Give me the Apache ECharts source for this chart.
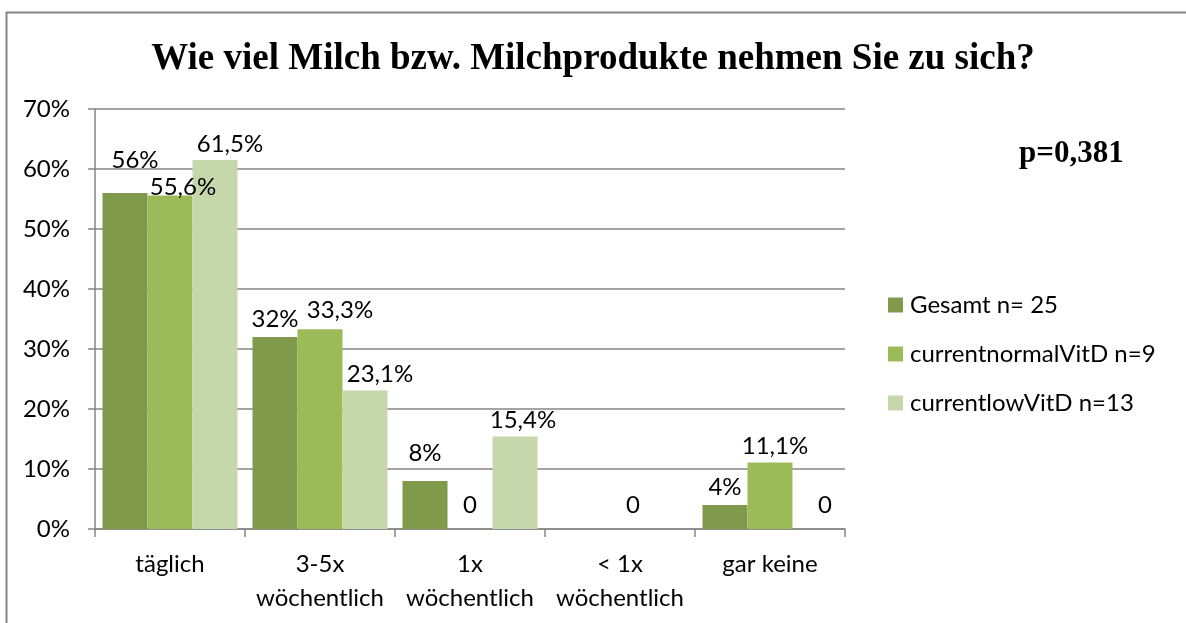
<!DOCTYPE html>
<html>
<head>
<meta charset="utf-8">
<script src="https://cdn.jsdelivr.net/npm/echarts@6/dist/echarts.min.js"></script>
<style>
  html, body { margin: 0; padding: 0; background: #fff; }
  #chart { width: 1186px; height: 623px; }
</style>
</head>
<body>
<div id="chart"></div>
<script>
// Kategorien (x-Achse)
var categories = ['täglich', '3-5x\nwöchentlich', '1x\nwöchentlich', '< 1x\nwöchentlich', 'gar keine']
// Werte in %, null = leere Zelle (kein Label)
var gesamt = [56, 32, 8, null, 4]
var normalVitD = [55.6, 33.3, 0, 0, 11.1]
var lowVitD = [61.5, 23.1, 15.4, null, 0]
var seriesNames = ['Gesamt n= 25', 'currentnormalVitD n=9', 'currentlowVitD n=13']
var colors = ['#80994A', '#9BBB59', '#C6D7AC']

// Label-Verschiebung [dx, dy] in px, wie im Original von Hand verschoben
var labelNudge = [
  [[10, -17], [0, -2], [0, -12], [0, 0], [0, -2]],
  [[13, 8], [20, -3], [0, -8], [13, -8], [5, 0]],
  [[15, 0], [15, 0], [8, 0], [0, 0], [10, -8]]
]

var fontSans = 'Lato'
var fontSize = 24
var chart = echarts.init(document.getElementById('chart'))

// Label wie in Excel: 0 ohne %, sonst Komma als Dezimaltrenner
function fmtLabel(p) {
  if (p.value === 0) return '0'
  return String(p.value).replace('.', ',') + '%'
}

var series = [gesamt, normalVitD, lowVitD].map(function (d, i) {
  return {
    name: seriesNames[i],
    type: 'bar',
    data: d.map(function (v, j) {
      if (v === null) return v
      return { value: v, label: { offset: labelNudge[i][j] } }
    }),
    barGap: '0%',
    barCategoryGap: '10%',
    itemStyle: { color: colors[i] },
    label: {
      show: true,
      position: 'top',
      distance: 4,
      color: '#000',
      fontFamily: fontSans,
      fontSize: fontSize,
      formatter: fmtLabel
    }
  }
})

var option = {
  backgroundColor: '#fff',
  animation: false,
  title: {
    text: 'Wie viel Milch bzw. Milchprodukte nehmen Sie zu sich?',
    left: 'center',
    top: 36,
    textStyle: {
      fontFamily: 'Liberation Serif',
      fontWeight: 'bold',
      fontSize: 37,
      color: '#000'
    }
  },
  legend: {
    orient: 'vertical',
    left: 888,
    top: 293,
    padding: 0,
    itemWidth: 15,
    itemHeight: 15,
    itemGap: 25,
    icon: 'rect',
    textStyle: { fontFamily: fontSans, fontSize: fontSize, color: '#000', padding: [0, 0, 0, 2] },
    data: seriesNames
  },
  grid: { left: 95, right: 341, top: 109, bottom: 94, containLabel: false },
  xAxis: {
    type: 'category',
    data: categories,
    axisLine: { lineStyle: { color: '#868686', width: 1.5 } },
    axisTick: { show: true, length: 8, alignWithLabel: false, lineStyle: { color: '#868686', width: 1.5 } },
    axisLabel: {
      color: '#000',
      fontFamily: fontSans,
      fontSize: fontSize,
      margin: 18,
      lineHeight: 34,
      interval: 0
    }
  },
  yAxis: {
    type: 'value',
    min: 0,
    max: 70,
    interval: 10,
    axisLine: { show: true, lineStyle: { color: '#868686', width: 1.5 } },
    axisTick: { show: true, length: 7, inside: false, lineStyle: { color: '#868686', width: 1.5 } },
    splitLine: { lineStyle: { color: '#868686', width: 1.5 } },
    axisLabel: {
      color: '#000',
      fontFamily: fontSans,
      fontSize: fontSize,
      margin: 25,
      formatter: '{value}%'
    }
  },
  graphic: [
    {
      type: 'rect',
      shape: { x: 6.5, y: 12.5, width: 1300, height: 700 },
      style: { fill: 'none', stroke: '#868686', lineWidth: 2 },
      silent: true
    },
    {
      type: 'text',
      left: 1019,
      top: 138,
      style: {
        text: 'p=0,381',
        fontFamily: 'Liberation Serif',
        fontWeight: 'bold',
        fontSize: 31,
        fill: '#000'
      }
    }
  ],
  series: series
}

chart.setOption(option)
</script>
</body>
</html>
